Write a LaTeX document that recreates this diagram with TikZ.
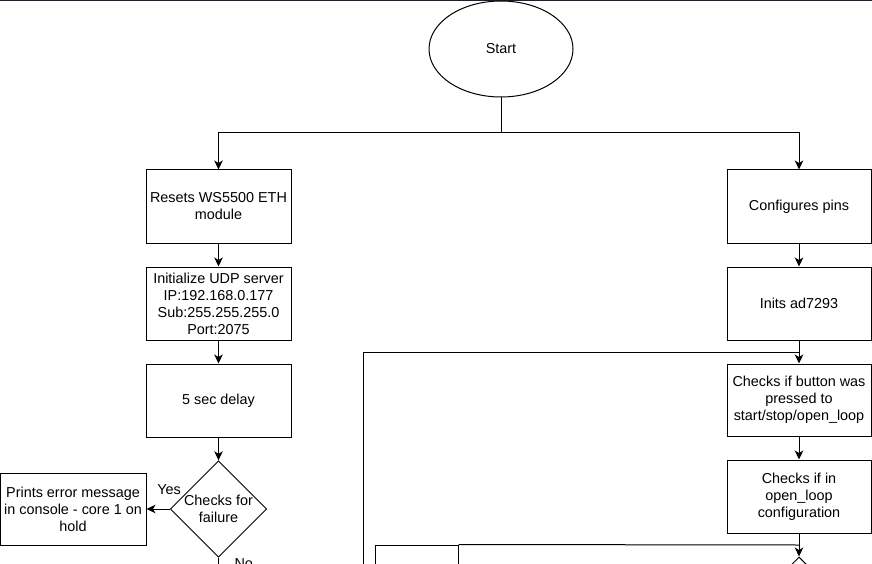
\documentclass[tikz,border=0pt]{standalone}
\usepackage{fontspec}
\setmainfont{Liberation Sans}
\usetikzlibrary{shapes.geometric,arrows.meta}
\definecolor{topbar}{RGB}{30,32,42}
\begin{document}
\begin{tikzpicture}[x=1pt,y=-1pt,
  txt/.style={font=\fontsize{14.4}{17}\selectfont},
  box/.style={txt,draw,line width=1pt,minimum width=145pt,minimum height=73pt,inner sep=0pt,align=center},
  dec/.style={txt,draw,diamond,line width=1pt,minimum width=96pt,minimum height=96pt,inner sep=0pt,align=center},
  arr/.style={line width=1pt,-{Stealth[length=9pt,width=8.5pt,inset=2.5pt]}},
  ln/.style={line width=1pt}]
\useasboundingbox (0,0) rectangle (872,564);
\clip (0,0) rectangle (872,564);
\fill[white] (0,0) rectangle (872,564);
\fill[topbar] (0,0) rectangle (872,1.5);

\node[txt,draw,ellipse,line width=1pt,minimum width=144pt,minimum height=96pt,inner sep=0pt] (start) at (501,49) {Start};

\node[box] (reset) at (218.5,206.5) {Resets WS5500 ETH\\module};
\node[box] (udp) at (218.5,303.5) {Initialize UDP server\\IP:192.168.0.177\\Sub:255.255.255.0\\Port:2075};
\node[box] (delay) at (218.5,400.5) {5 sec delay};
\node[dec] (fail) at (218.5,509) {Checks for\\failure};
\node[box,minimum width=146pt,minimum height=72pt] (err) at (73,509) {Prints error message\\in console - core 1 on\\hold};

\node[box,minimum width=144pt] (pins) at (799,206.5) {Configures pins};
\node[box,minimum width=144pt] (inits) at (799,303.5) {Inits ad7293};
\node[box,minimum width=144pt,minimum height=72pt] (button) at (799,400) {Checks if button was\\pressed to\\start/stop/open\_loop};
\node[box,minimum width=144pt] (openl) at (799,496.5) {Checks if in\\open\_loop\\configuration};
\node[dec] (d2) at (799,605) {};
\node[box,minimum width=83pt] (blbox) at (416.5,581.5) {};

\coordinate (split) at (501,133);
\draw[ln] (start.south) -- (split);
\draw[arr] (split) -| (reset.north);
\draw[arr] (split) -| (pins.north);
\draw[arr] (reset) -- (udp);
\draw[arr] (udp) -- (delay);
\draw[arr] (delay) -- (fail.north);
\draw[arr] (fail.west) -- (err.east);
\node[txt] (yes) at (169,490) {Yes};
\coordinate (nofree) at (218.5,590);
\draw[ln] (fail.south) -- (nofree);
\node[txt,anchor=west] (no) at (231,564) {No};

\draw[arr] (pins) -- (inits);
\coordinate (loopfree) at (363,600);
\coordinate (j1) at (799,352);
\draw[ln] (loopfree) |- (j1);
\draw[arr] (inits) -- (button);
\draw[arr] (button) -- (openl);
\draw[arr] (openl) -- (d2.north);
\coordinate (j2) at (799,545);
\draw[ln] (blbox.north east) -- (j2);
\end{tikzpicture}
\end{document}
